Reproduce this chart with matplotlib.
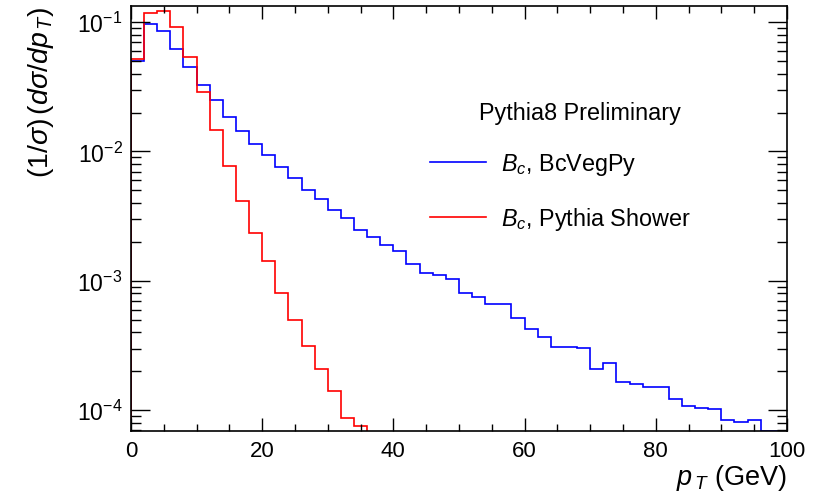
import numpy as np
import matplotlib
matplotlib.use("Agg")
import matplotlib.pyplot as plt
from matplotlib.ticker import MultipleLocator, LogLocator, NullFormatter

# bin edges: 2 GeV bins from 0 to 100
pt_edges = np.arange(0, 102, 2)

# normalised pT spectrum, B_c from BcVegPy (50 bins)
bcvegpy = [0.0504, 0.097, 0.085, 0.062, 0.0449, 0.0327, 0.0248, 0.0186, 0.0145, 0.01138,
           0.00946, 0.00756, 0.00628, 0.00505, 0.0043, 0.00353, 0.00306, 0.00249, 0.00217, 0.0019,
           0.00171, 0.00136, 0.00116, 0.00111, 0.00104, 0.000806, 0.000751, 0.000663, 0.00066, 0.000519,
           0.000425, 0.000368, 0.00031, 0.000309, 0.000303, 0.000208, 0.000232, 0.000164, 0.000159, 0.000151,
           0.00015, 0.000122, 0.000108, 0.000104, 0.000102, 8.43e-05, 8.13e-05, 8.38e-05, 6.95e-05, 6.9e-05]

# B_c from Pythia shower (only bins above the plotted range)
pythia_shower = [0.052, 0.1167, 0.1216, 0.0924, 0.0542, 0.0288, 0.0146, 0.00778, 0.00417, 0.00236,
                 0.00142, 0.000805, 0.000498, 0.000312, 0.000208, 0.00014, 8.67e-05, 7.6e-05]

y_min, y_max = 6.87e-05, 0.134

plt.rcParams['font.family'] = 'Liberation Sans'
plt.rcParams['mathtext.fontset'] = 'custom'
plt.rcParams['mathtext.rm'] = 'Liberation Sans'
plt.rcParams['mathtext.it'] = 'Liberation Sans:italic'
plt.rcParams['mathtext.bf'] = 'Liberation Sans:bold'

fig = plt.figure(figsize=(8.15, 5.02), dpi=100)
ax = fig.add_axes([0.1607, 0.1388, 0.8049, 0.8479])

ax.stairs(bcvegpy, pt_edges, baseline=1e-6, color='#0000ff', linewidth=1.2,
          label=r'$B_{c}$, BcVegPy')
ax.stairs(pythia_shower, pt_edges[:len(pythia_shower) + 1], baseline=1e-6,
          color='#ff0000', linewidth=1.2, label=r'$B_{c}$, Pythia Shower')

ax.set_yscale('log')
ax.set_xlim(0, 100)
ax.set_ylim(y_min, y_max)

ax.xaxis.set_major_locator(MultipleLocator(20))
ax.xaxis.set_minor_locator(MultipleLocator(5))
ax.yaxis.set_major_locator(LogLocator(base=10))
ax.yaxis.set_minor_locator(LogLocator(base=10, subs=np.arange(2, 10)))
ax.yaxis.set_minor_formatter(NullFormatter())

ax.tick_params(axis='both', which='both', direction='in', top=True, right=True, width=1.0)
ax.tick_params(axis='x', which='major', length=9.5, pad=6, labelsize=16)
ax.tick_params(axis='x', which='minor', length=5)
ax.tick_params(axis='y', which='major', length=14, pad=6, labelsize=16.5)
ax.tick_params(axis='y', which='minor', length=7)
for sp in ax.spines.values():
    sp.set_linewidth(1.2)

ax.set_xlabel(r'$p_{\,T}$ (GeV)', fontsize=19.5, loc='right', labelpad=1)
ax.set_ylabel(r'$\mathit{(1/\sigma)\,(d\sigma/dp_{\,T})}$', fontsize=20.5, loc='top', labelpad=15)

ax.text(0.5305, 0.75, 'Pythia8 Preliminary', transform=ax.transAxes,
        fontsize=16.8, ha='left', va='center')
ax.legend(loc='center left', bbox_to_anchor=(0.4558, 0.5623), frameon=False,
          fontsize=16.8, handlelength=2.4, handletextpad=0.64, labelspacing=1.2,
          borderpad=0, borderaxespad=0)

fig.savefig('out.png', dpi=100)
